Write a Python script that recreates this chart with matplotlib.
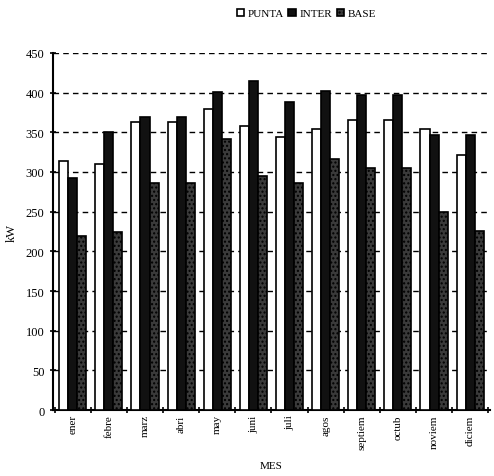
from matplotlib import pyplot as plt
import numpy as np

months = ['ener', 'febre', 'marz', 'abri', 'may', 'juni', 'juli', 'agos',
          'septiem', 'octub', 'noviem', 'diciem']
punta = [314, 310, 363, 363, 379, 358, 344, 354, 366, 366, 354, 322]
inter = [292, 350, 369, 369, 401, 414, 388, 402, 397, 397, 346, 346]
base = [220, 224, 286, 286, 341, 295, 286, 316, 305, 305, 249, 226]


def main():
    plt.rcParams['font.family'] = ['Liberation Serif', 'DejaVu Serif']
    fig = plt.figure(figsize=(4.94, 4.77), dpi=100)
    ax = fig.add_axes([0.107, 0.138, 0.885, 0.749])

    x = np.arange(len(months))
    w = 0.25
    ax.bar(x - w, punta, w, color='white', edgecolor='black', linewidth=1.2,
           label='PUNTA', zorder=3)
    ax.bar(x, inter, w, color='#111111', edgecolor='black', linewidth=1.2,
           label='INTER', zorder=3)
    ax.bar(x + w, base, w, color='#3a3a3a', edgecolor='black', linewidth=1.2,
           hatch='....', label='BASE', zorder=3)

    ax.set_xlim(-0.55, len(months) - 0.45)
    ax.set_ylim(0, 450)
    ax.set_yticks(np.arange(0, 451, 50))
    ax.yaxis.grid(True, linestyle=(0, (4, 3)), color='black', linewidth=1.0)
    ax.set_axisbelow(True)

    ax.set_xticks(x)
    ax.set_xticklabels(months, rotation=90, fontsize=8)
    ax.set_xticks(np.arange(-0.5, len(months)), minor=True)
    ax.tick_params(axis='x', which='major', length=0, pad=3)
    ax.tick_params(axis='x', which='minor', length=5, width=1.2, direction='inout')
    ax.tick_params(axis='y', length=5, width=1.2, direction='inout', labelsize=9)

    for s in ['top', 'right']:
        ax.spines[s].set_visible(False)
    for s in ['left', 'bottom']:
        ax.spines[s].set_linewidth(1.5)

    ax.set_ylabel('kW', fontsize=9, labelpad=6)
    ax.set_xlabel('MES', fontsize=8, labelpad=9)

    ax.legend(loc='center', bbox_to_anchor=(0.58, 1.11), ncol=3,
              frameon=False, fontsize=8, handlelength=0.7, handleheight=0.7,
              handletextpad=0.3, columnspacing=0.4)

    plt.savefig('out.png', dpi=100)


if __name__ == '__main__':
    main()
